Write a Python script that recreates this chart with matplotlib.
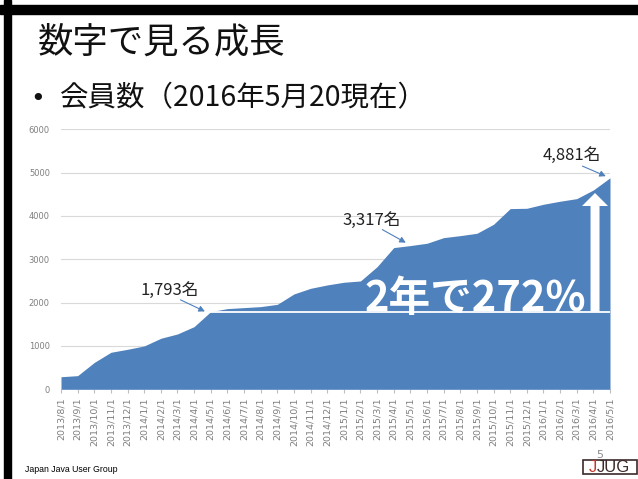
import matplotlib
matplotlib.use("Agg")
import matplotlib.pyplot as plt
from matplotlib.patches import Rectangle

plt.rcParams['font.family'] = ['Noto Sans CJK JP', 'DejaVu Sans']

# monthly member counts
months = ["2013/8/1", "2013/9/1", "2013/10/1", "2013/11/1", "2013/12/1",
          "2014/1/1", "2014/2/1", "2014/3/1", "2014/4/1", "2014/5/1", "2014/6/1",
          "2014/7/1", "2014/8/1", "2014/9/1", "2014/10/1", "2014/11/1", "2014/12/1",
          "2015/1/1", "2015/2/1", "2015/3/1", "2015/4/1", "2015/5/1", "2015/6/1",
          "2015/7/1", "2015/8/1", "2015/9/1", "2015/10/1", "2015/11/1", "2015/12/1",
          "2016/1/1", "2016/2/1", "2016/3/1", "2016/4/1", "2016/5/1"]
members = [290, 315, 620, 854, 923,
           1000, 1177, 1277, 1446, 1793, 1862, 1885, 1908, 1960, 2200, 2330, 2408,
           2470, 2500, 2830, 3270, 3317, 3370, 3500, 3546, 3600, 3808, 4170, 4177,
           4270, 4340, 4400, 4600, 4881]
yticks = [0, 1000, 2000, 3000, 4000, 5000, 6000]

# callouts: index of month, label
call_idx = [9, 21, 33]
call_text = ["1,793名", "3,317名", "4,881名"]

base_idx = 9          # 2014/5/1, start of the 2 year window
growth_text = "2年で272%"

fill_col = "#4F81BD"

fig = plt.figure(figsize=(6.38, 4.79), dpi=100)
ax = fig.add_axes([61 / 638, 1 - 389.3 / 479, 549 / 638, 260 / 479])

x = list(range(len(months)))
ax.fill_between(x, members, 0, color=fill_col, lw=0, zorder=2)
ax.set_xlim(0, len(months) - 1)
ax.set_ylim(0, 6000)
ax.set_yticks(yticks)
ax.set_yticklabels([str(v) for v in yticks], fontsize=6, color="#7f7f7f",
                   family="DejaVu Sans")
ax.set_xticks(x)
ax.set_xticklabels(months, rotation=90, fontsize=6.8, color="#7f7f7f",
                   family="DejaVu Sans")
ax.tick_params(axis="y", length=0, pad=8)
ax.tick_params(axis="x", length=3, color="#bfbfbf", pad=3)
ax.grid(axis="y", color="#d9d9d9", lw=0.8, zorder=0)
for s in ax.spines.values():
    s.set_visible(False)

# white base line from 2014/5/1
base = members[base_idx]
ax.plot([base_idx, len(months) - 1], [base, base], color="white", lw=1.3, zorder=3)

# big growth text and up arrow
ax.text(24.9, base + 20, growth_text, color="white", fontsize=30,
        fontweight="bold", ha="center", va="baseline", zorder=4)
ax.arrow(32.1, base, 0, 4530 - base, width=0.54, head_width=1.56,
         head_length=300, length_includes_head=True, color="white",
         ec="none", zorder=4, clip_on=False)

# callouts
text_pos = [(6.55, 2292), (18.67, 3906), (30.69, 5389)]
arrow_from = [(7.03, 2092), (19.17, 3716), (31.19, 5176)]
arrow_to = [(8.8, 1770), (20.87, 3353), (32.9, 4893)]
for i, t in enumerate(call_text):
    ax.text(text_pos[i][0], text_pos[i][1], t, fontsize=12, color="#222222",
            ha="center", va="center", zorder=5)
    ax.annotate("", xy=arrow_to[i], xytext=arrow_from[i],
                arrowprops=dict(arrowstyle="-|>,head_length=0.35,head_width=0.18",
                                color=fill_col, lw=0.8), zorder=5)

# slide frame
fig.patches.append(Rectangle((4 / 638, 0), 7 / 638, 1, transform=fig.transFigure,
                             color="black", zorder=0))
fig.patches.append(Rectangle((0, 1 - 14 / 479), 1, 9 / 479, transform=fig.transFigure,
                             color="black", zorder=0))

fig.text(38 / 638, 1 - 42.5 / 479, "数字で見る成長", fontsize=25.5, va="center",
         ha="left", color="#111111")
fig.text(30 / 638, 1 - 98.5 / 479, "•", fontsize=18, va="center", ha="left",
         color="#111111", family="DejaVu Sans")
fig.text(60 / 638, 1 - 98.5 / 479, "会員数（2016年5月20現在）", fontsize=20.5,
         va="center", ha="left", color="#111111")

# footer
fig.text(25 / 638, 1 - 469 / 479, "Japan Java User Group", fontsize=6.3,
         va="center", ha="left", family="Liberation Sans")
fig.text(600 / 638, 1 - 455 / 479, "5", fontsize=8, va="center", ha="center",
         color="#8c8c8c", family="DejaVu Sans")
fig.patches.append(Rectangle((583 / 638, 1 - 474 / 479), 54 / 638, 14 / 479,
                             transform=fig.transFigure, fill=False,
                             ec="#3b2a2a", lw=1.2))
fig.text(589 / 638, 1 - 467.5 / 479, "J", fontsize=12, va="center", ha="left",
         color="#c0392b", family="Liberation Sans")
fig.text(597 / 638, 1 - 467.5 / 479, "JUG", fontsize=12, va="center", ha="left",
         color="#3b2a2a", family="Liberation Sans")

fig.savefig("out.png", dpi=100)
